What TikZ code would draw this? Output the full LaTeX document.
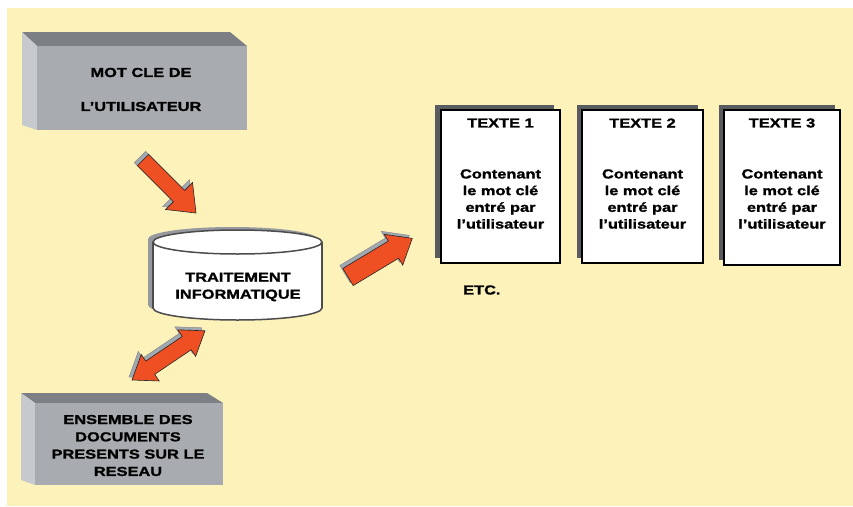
\documentclass[tikz,border=0pt]{standalone}
\usepackage{fontspec}
\newfontfamily\heavy[UprightFont={* Bold},FakeStretch=1.26,FakeBold=1.4]{Liberation Sans}
\definecolor{bgyellow}{RGB}{252,242,186}
\definecolor{frontgrey}{RGB}{168,172,176}
\definecolor{topgrey}{RGB}{124,128,132}
\definecolor{sidegrey}{RGB}{198,202,205}
\definecolor{arroworange}{RGB}{238,80,36}
\definecolor{arrowshadow}{RGB}{160,168,176}
\definecolor{docshadow}{RGB}{88,91,95}
\definecolor{cylshadow}{RGB}{150,154,158}
\tikzset{
  lbl/.style={font=\heavy\fontsize{13}{17}\selectfont, align=center, inner sep=0pt, text=black},
  frontface/.style={fill=frontgrey, inner sep=0pt},
  docbox/.style={draw=black, line width=1.4pt, fill=white, minimum width=119, minimum height=153, inner sep=0pt},
  pics/barrow/.style n args={4}{code={
    \path[pic actions] (0,-#2) -- (#1-#4,-#2) -- (#1-#4,-#3) -- (#1,0) -- (#1-#4,#3) -- (#1-#4,#2) -- (0,#2) -- cycle;
  }},
  pics/dbarrow/.style n args={4}{code={
    \path[pic actions] (0,0) -- (#4,-#3) -- (#4,-#2) -- (#1-#4,-#2) -- (#1-#4,-#3) -- (#1,0) -- (#1-#4,#3) -- (#1-#4,#2) -- (#4,#2) -- (#4,#3) -- cycle;
  }},
  arrfill/.style={fill=arroworange, draw=black!85, line width=0.6pt, line join=miter},
  arrshad/.style={fill=arrowshadow, draw=black!45, line width=0.5pt}
}
\begin{document}
\begin{tikzpicture}[x=1pt,y=-1pt]
\useasboundingbox (0,0) rectangle (853,506);
\fill[white] (0,0) rectangle (853,506);
\fill[bgyellow] (7,8) rectangle (853,506);

% Box 1 : user keyword
\fill[topgrey] (22,32) -- (230,32) -- (247,46) -- (37,46) -- cycle;
\fill[sidegrey] (22,32) -- (37,46) -- (37,130) -- (22,125) -- cycle;
\node[frontface, minimum width=210, minimum height=84] (user) at (142,88) {};
\node[lbl, font=\heavy\fontsize{13}{34}\selectfont] (usertxt) at (141,89.5) {MOT CLE DE\\L’UTILISATEUR};

% Box 2 : documents on network
\fill[topgrey] (21,393) -- (207,393) -- (223,403) -- (35,403) -- cycle;
\fill[sidegrey] (21,393) -- (35,403) -- (35,485) -- (21,480) -- cycle;
\node[frontface, minimum width=188, minimum height=82] (docs) at (129,444) {};
\node[lbl, font=\heavy\fontsize{13}{17.3}\selectfont] (docstxt) at (128,445.5) {ENSEMBLE DES\\DOCUMENTS\\PRESENTS SUR LE\\RESEAU};

% Cylinder : processing
\begin{scope}[shift={(-5,-3)}]
  \fill[cylshadow] (153,242) rectangle (322,308);
  \fill[cylshadow] (237.5,308) ellipse [x radius=84.5, y radius=12];
  \fill[cylshadow] (237.5,242) ellipse [x radius=84.5, y radius=12];
\end{scope}
\fill[white] (153,242) rectangle (322,308);
\fill[white] (237.5,308) ellipse [x radius=84.5, y radius=12];
\begin{scope}
  \clip (140,308) rectangle (335,330);
  \draw[black!70, line width=1.5pt] (237.5,308) ellipse [x radius=84.5, y radius=12];
\end{scope}
\draw[black!70, line width=1.5pt] (153,242) -- (153,308) (322,242) -- (322,308);
\draw[black!70, line width=1.5pt, fill=white] (237.5,242) ellipse [x radius=84.5, y radius=12];
\node[lbl] (proc) at (238,287) {TRAITEMENT\\INFORMATIQUE};

% Block arrows
\pic[arrshad, rotate=-45] at (140,157) {barrow={75}{8}{19}{24}};
\pic[arrfill, rotate=-45] (a1) at (143,160) {barrow={75}{8}{19}{24}};
\pic[arrshad, rotate=31] at (345,274) {barrow={75}{10}{18}{22}};
\pic[arrfill, rotate=31] (a2) at (348,277) {barrow={75}{10}{18}{22}};
\pic[arrshad, rotate=34] at (129,377) {dbarrow={88}{8}{16}{22}};
\pic[arrfill, rotate=34] (a3) at (132,380) {dbarrow={88}{8}{16}{22}};

% Result documents
\fill[docshadow] (435,105) rectangle (554,258);
\node[docbox] (t1) at (500.5,186.5) {};
\fill[docshadow] (577,105) rectangle (698,258);
\node[docbox, minimum width=121] (t2) at (642.5,186.5) {};
\fill[docshadow] (719,105) rectangle (835,260);
\node[docbox, minimum width=116, minimum height=155] (t3) at (782,187.5) {};

\node[lbl] (t1title) at (500.5,123) {TEXTE 1};
\node[lbl] (t2title) at (642.5,123) {TEXTE 2};
\node[lbl] (t3title) at (782,123) {TEXTE 3};
\node[lbl, font=\heavy\fontsize{13}{16.7}\selectfont] (t1body) at (500.5,199) {Contenant\\le mot clé\\entré par\\l’utilisateur};
\node[lbl, font=\heavy\fontsize{13}{16.7}\selectfont] (t2body) at (642.5,199) {Contenant\\le mot clé\\entré par\\l’utilisateur};
\node[lbl, font=\heavy\fontsize{13}{16.7}\selectfont] (t3body) at (782,199) {Contenant\\le mot clé\\entré par\\l’utilisateur};

\node[lbl, anchor=west] (etc) at (463,290) {ETC.};
\end{tikzpicture}
\end{document}
